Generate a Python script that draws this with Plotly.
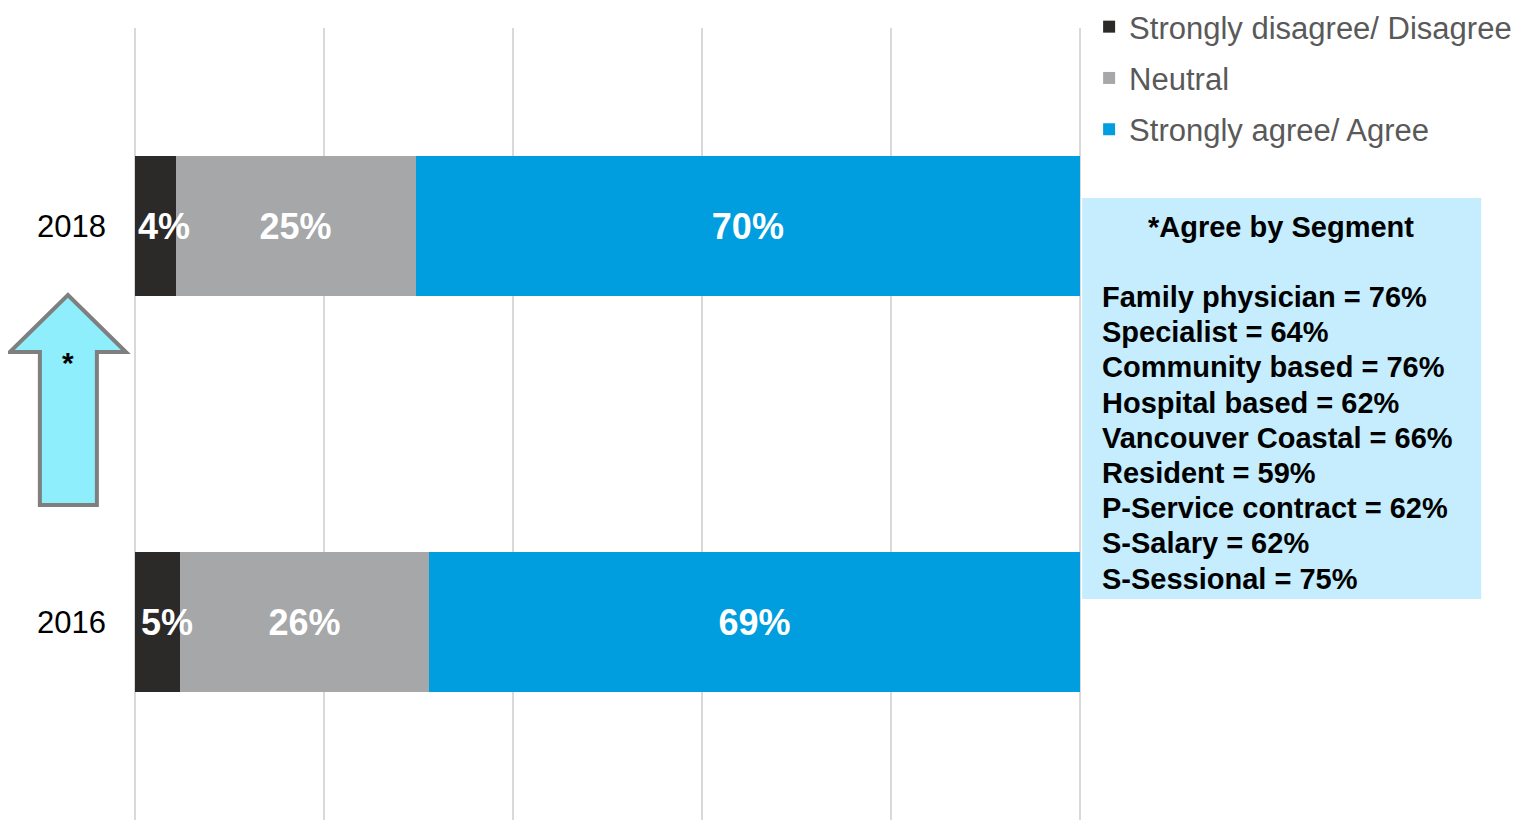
import plotly.graph_objects as go

years = ["2016", "2018"]
series_names = ["Strongly disagree/ Disagree", "Neutral", "Strongly agree/ Agree"]
# bar lengths as measured on the chart (shares of 100)
disagree = [4.8, 4.3]
neutral = [26.3, 25.4]
agree = [68.9, 70.3]
# printed labels
disagree_lbl = ["5%", "4%"]
neutral_lbl = ["26%", "25%"]
agree_lbl = ["69%", "70%"]
colors = ["#2b2a29", "#a6a7a9", "#009ddf"]

segments = ["Family physician", "Specialist", "Community based", "Hospital based",
            "Vancouver Coastal", "Resident", "P-Service contract", "S-Salary", "S-Sessional"]
segment_agree = [76, 64, 76, 62, 66, 59, 62, 62, 75]

FONT = "Liberation Sans, Arial, sans-serif"
OFF = 8                      # browser body margin
W, H = 1529 - OFF, 820 - OFF
XPAD = 0.2                   # axis padding so 0 and 100 gridlines are drawn
SCALE = (1080 - 135) / 100.0
left_ref = 135 - XPAD * SCALE
right_ref = 1080 + XPAD * SCALE
ML = left_ref - OFF
MR = W - (right_ref - OFF)
MT, MB = 28 - OFF, 0
PW, PH = W - ML - MR, H - MT - MB

def px(x):   # reference-screen x -> paper
    return (x - OFF - ML) / PW

def py(y):   # reference-screen y -> paper
    return (H - MB - (y - OFF)) / PH

fig = go.Figure()
texts = [["", ""], neutral_lbl, agree_lbl]
for i, (name, vals) in enumerate(zip(series_names, [disagree, neutral, agree])):
    fig.add_trace(go.Bar(
        y=years, x=vals, name=name, orientation="h",
        marker=dict(color=colors[i], line=dict(width=0)),
        text=texts[i], textposition="inside", insidetextanchor="middle",
        textangle=0, constraintext="none",
        textfont=dict(family=FONT, size=36, color="white", weight="bold"),
        hoverinfo="skip", legendgroup=f"g{i}", width=0.354,
    ))

# labels of the narrow first segment overflow the bar
for idx, (v, lbl) in enumerate(zip(disagree, disagree_lbl)):
    fig.add_annotation(x=v / 2, y=idx, xref="x", yref="y", text=f"<b>{lbl}</b>",
                       showarrow=False, xshift=9, xanchor="center", yanchor="middle",
                       font=dict(family=FONT, size=36, color="white"))

fig.update_layout(
    width=W, height=H, autosize=False,
    margin=dict(l=ML, r=MR, t=MT, b=MB, pad=0, autoexpand=False),
    barmode="stack", bargap=0.646,
    plot_bgcolor="white", paper_bgcolor="white",
    showlegend=True,
    legend=dict(x=px(1089), y=py(0), xanchor="left", yanchor="top",
                traceorder="grouped", tracegroupgap=8,
                font=dict(family=FONT, size=31, color="#595959"),
                itemwidth=30, bgcolor="rgba(0,0,0,0)"),
    xaxis=dict(range=[-XPAD, 100 + XPAD], tickvals=[0, 20, 40, 60, 80, 100],
               showgrid=True, gridcolor="#d9d9d9", gridwidth=2,
               showticklabels=False, zeroline=False, showline=False, ticks="", fixedrange=True),
    yaxis=dict(range=[-0.5, 1.5], showgrid=False, zeroline=False, showline=False,
               ticks="", ticklabelstandoff=26,
               tickfont=dict(family=FONT, size=31, color="black")),
)

# segment box
fig.add_shape(type="rect", xref="paper", yref="paper",
              x0=px(1082), x1=px(1481), y0=py(599), y1=py(198),
              fillcolor="#c5edfd", line=dict(width=0), layer="above")
fig.add_annotation(xref="paper", yref="paper", x=px(1281), y=py(227),
                   xanchor="center", yanchor="middle", showarrow=False,
                   text="<b>*Agree by Segment</b>",
                   font=dict(family=FONT, size=29, color="black"))
for k, (s, v) in enumerate(zip(segments, segment_agree)):
    fig.add_annotation(xref="paper", yref="paper", x=px(1100), y=py(297 + k * 35.2),
                       xanchor="left", yanchor="middle", showarrow=False,
                       text=f"<b>{s} = {v}%</b>",
                       font=dict(family=FONT, size=29, color="black"))

# up arrow
pts = [(68, 295), (126, 352), (97, 352), (97, 505), (40, 505), (40, 352), (10, 352)]
path = "M " + " L ".join(f"{px(x)},{py(y)}" for x, y in pts) + " Z"
fig.add_shape(type="path", xref="paper", yref="paper", path=path,
              fillcolor="#8eeefc", line=dict(color="#7f7f7f", width=4))
fig.add_annotation(xref="paper", yref="paper", x=px(68), y=py(362),
                   xanchor="center", yanchor="middle", showarrow=False,
                   text="<b>*</b>", font=dict(family=FONT, size=30, color="black"))

fig.write_html("out.html")
